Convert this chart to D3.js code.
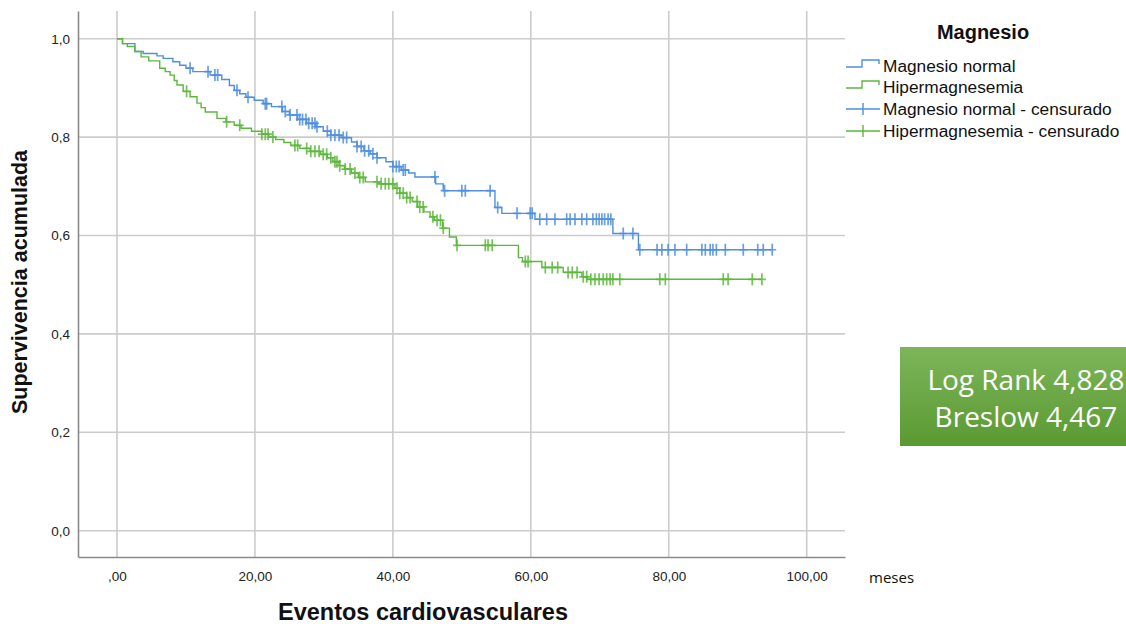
<!DOCTYPE html>
<html>
<head>
<meta charset="utf-8">
<script src="https://cdn.jsdelivr.net/npm/d3@7"></script>
<style>
  body { margin: 0; background: #fff; }
  svg { display: block; }
</style>
</head>
<body>
<svg id="canvas" width="1126" height="624"></svg>
<script>
// steps: [meses, supervivencia after the drop]
var normal_steps = [
    [0.8, 0.99], [2.6, 0.974], [3.8, 0.970], [5.8, 0.965], [6.7, 0.960], [8.1, 0.953],
    [9.1, 0.946], [10.0, 0.940], [11.0, 0.933], [13.5, 0.926], [15.2, 0.917], [16.3, 0.905],
    [17.0, 0.895], [17.8, 0.888], [18.7, 0.881], [19.9, 0.875], [21.2, 0.868], [22.4, 0.862],
    [24.0, 0.852], [25.0, 0.845], [26.2, 0.836], [27.5, 0.828], [28.8, 0.821], [29.9, 0.812],
    [31.0, 0.804], [32.5, 0.799], [34.0, 0.790], [34.8, 0.781], [35.8, 0.772], [36.7, 0.766],
    [37.7, 0.758], [39.0, 0.750], [40.0, 0.740], [41.2, 0.733], [42.3, 0.727], [43.2, 0.719],
    [46.2, 0.705], [47.3, 0.691], [54.8, 0.657], [55.8, 0.645], [60.6, 0.633], [71.9, 0.604],
    [75.6, 0.571]
];
var hiper_steps = [
    [0.8, 0.99], [1.5, 0.984], [2.6, 0.974], [3.5, 0.963], [4.6, 0.955], [6.2, 0.940],
    [7.0, 0.933], [7.7, 0.926], [8.3, 0.915], [8.7, 0.906], [9.6, 0.893], [10.6, 0.882],
    [11.6, 0.869], [12.2, 0.860], [12.8, 0.851], [14.5, 0.838], [15.8, 0.831], [17.0, 0.824],
    [18.0, 0.818], [19.5, 0.812], [21.0, 0.806], [22.0, 0.800], [23.0, 0.795], [24.2, 0.789],
    [25.2, 0.783], [26.5, 0.777], [28.0, 0.771], [29.5, 0.765], [30.5, 0.758], [31.3, 0.750],
    [32.2, 0.742], [33.0, 0.735], [34.0, 0.727], [35.0, 0.718], [36.0, 0.709], [38.0, 0.705],
    [40.3, 0.696], [41.0, 0.686], [42.0, 0.677], [42.8, 0.669], [43.6, 0.658], [44.5, 0.648],
    [45.4, 0.638], [46.0, 0.631], [47.2, 0.615], [48.2, 0.597], [49.2, 0.580], [58.2, 0.555],
    [58.8, 0.547], [61.6, 0.535], [64.7, 0.525], [67.4, 0.516], [68.2, 0.511]
];
// censored cases (meses)
var normal_censored = [
    10.6, 13.2, 14.2, 14.6, 17.4, 19.0, 21.5, 21.7, 23.9, 24.4, 25.1, 26.1, 26.5, 26.9, 27.4,
    27.8, 28.3, 28.7, 29.0, 30.5, 31.0, 31.6, 32.2, 32.8, 33.3, 34.8, 35.4, 35.9, 36.5, 37.1,
    37.7, 40.0, 40.5, 40.9, 41.5, 41.8, 46.1, 47.5, 50.0, 50.5, 54.1, 55.2, 58.0, 59.9, 60.2,
    61.3, 62.3, 63.5, 65.2, 65.7, 66.4, 67.4, 68.1, 69.0, 69.5, 69.9, 70.3, 70.7, 71.2, 71.6,
    73.4, 74.8, 75.8, 78.3, 79.0, 79.9, 80.9, 82.6, 84.8, 85.3, 86.0, 86.4, 86.9, 88.2, 90.8,
    92.9, 93.7, 95.0
];
var hiper_censored = [
    10.1, 15.9, 17.8, 21.0, 21.5, 21.9, 22.6, 25.8, 26.2, 27.5, 28.1, 28.7, 29.3, 29.9, 30.4,
    31.0, 31.6, 31.9, 32.3, 33.1, 33.8, 34.5, 35.2, 35.7, 37.7, 38.3, 38.9, 39.4, 40.0, 40.6,
    41.0, 41.5, 42.0, 42.5, 43.5, 43.9, 44.4, 45.8, 46.4, 46.9, 47.3, 49.3, 53.4, 53.8, 54.4,
    59.2, 59.6, 62.1, 63.1, 63.9, 65.4, 66.0, 66.7, 67.6, 68.1, 68.7, 69.3, 69.9, 70.5, 71.0,
    71.5, 71.9, 72.9, 78.7, 79.5, 87.9, 88.6, 92.1, 93.5
];
var legend_labels = ['Magnesio normal', 'Hipermagnesemia', 'Magnesio normal - censurado', 'Hipermagnesemia - censurado'];
var x_ticks = [0, 20, 40, 60, 80, 100];
var x_tick_labels = [',00', '20,00', '40,00', '60,00', '80,00', '100,00'];
var y_ticks = [0, 0.2, 0.4, 0.6, 0.8, 1.0];
var y_tick_labels = ['0,0', '0,2', '0,4', '0,6', '0,8', '1,0'];
var stats_lines = ['Log Rank 4,828', 'Breslow 4,467'];

var colors = ['#4f8fe0', '#5cb83c'];
var arial = 'Arial, "Liberation Sans", sans-serif';

draw_chart();

function draw_chart(){
    var canvas = d3.select('#canvas');
    var plot = {left: 78, right: 845, top: 11, bottom: 557};

    var x_scale = d3.scaleLinear().domain([-5.65, 105.55]).range([plot.left, plot.right]);
    var y_scale = d3.scaleLinear().domain([-0.0535, 1.0563]).range([plot.bottom, plot.top]);

    draw_grid(canvas, x_scale, y_scale, plot);
    draw_axes(canvas, x_scale, y_scale, plot);

    var all_steps = [normal_steps, hiper_steps];
    var all_censored = [normal_censored, hiper_censored];
    for (var i = 0; i < 2; i++){
        draw_curve(canvas, x_scale, y_scale, all_steps[i], all_censored[i], colors[i]);
    }

    draw_legend(canvas);
    draw_stats_box(canvas);
}

function survival_at(steps, t){
    var s = 1;
    steps.forEach(function(d){ if (d[0] <= t) s = d[1]; });
    return s;
}

function draw_grid(canvas, x_scale, y_scale, plot){
    var grid = canvas.append('g').attr('class', 'grid');
    grid.selectAll('.vgrid').data(x_ticks).enter().append('line')
        .attr('x1', function(d){ return x_scale(d); })
        .attr('x2', function(d){ return x_scale(d); })
        .attr('y1', plot.top).attr('y2', plot.bottom)
        .attr('stroke', '#cccccc').attr('stroke-width', 1.6);
    grid.selectAll('.hgrid').data(y_ticks).enter().append('line')
        .attr('x1', plot.left).attr('x2', plot.right)
        .attr('y1', function(d){ return y_scale(d); })
        .attr('y2', function(d){ return y_scale(d); })
        .attr('stroke', '#cccccc').attr('stroke-width', 1.6);
}

function draw_axes(canvas, x_scale, y_scale, plot){
    var x_axis = canvas.append('g')
        .attr('transform', 'translate(0, ' + plot.bottom + ')')
        .call(d3.axisBottom(x_scale).tickValues(x_ticks).tickSize(0).tickPadding(14)
            .tickFormat(function(d, i){ return x_tick_labels[i]; }));
    x_axis.select('.domain').attr('stroke', '#8a8a8a').attr('stroke-width', 1.6);
    x_axis.selectAll('text').attr('font-family', arial)
        .attr('font-size', 13.5).attr('fill', '#222');

    var y_axis = canvas.append('g')
        .attr('transform', 'translate(' + plot.left + ', 0)')
        .call(d3.axisLeft(y_scale).tickValues(y_ticks).tickSize(0).tickPadding(8)
            .tickFormat(function(d, i){ return y_tick_labels[i]; }));
    y_axis.select('.domain').attr('stroke', '#8a8a8a').attr('stroke-width', 1.6);
    y_axis.selectAll('text').attr('font-family', arial)
        .attr('font-size', 13.5).attr('fill', '#222');

    canvas.append('text')
        .attr('transform', 'translate(27, 282) rotate(-90)')
        .attr('text-anchor', 'middle')
        .attr('font-family', arial)
        .attr('font-weight', 'bold').attr('font-size', 21.5).attr('fill', '#111')
        .text('Supervivencia acumulada');

    canvas.append('text')
        .attr('x', 423).attr('y', 620)
        .attr('text-anchor', 'middle')
        .attr('font-family', arial)
        .attr('font-weight', 'bold').attr('font-size', 23.5).attr('fill', '#111')
        .text('Eventos cardiovasculares');

    canvas.append('text')
        .attr('x', 869).attr('y', 583)
        .attr('font-family', '"Open Sans", sans-serif')
        .attr('font-size', 15).attr('fill', '#111')
        .text('meses');
}

function draw_curve(canvas, x_scale, y_scale, steps, censored, color){
    var last_t = d3.max(censored);
    var points = [[0, 1]].concat(steps);
    points.push([last_t, steps[steps.length - 1][1]]);

    var line = d3.line()
        .x(function(d){ return x_scale(d[0]); })
        .y(function(d){ return y_scale(d[1]); })
        .curve(d3.curveStepAfter);

    canvas.append('path').datum(points)
        .attr('d', line)
        .attr('fill', 'none')
        .attr('stroke', color)
        .attr('stroke-width', 1.4);

    var marks = canvas.append('g');
    marks.selectAll('path').data(censored).enter().append('path')
        .attr('d', function(t){
            var cx = x_scale(t), cy = y_scale(survival_at(steps, t));
            return 'M' + (cx - 4) + ',' + cy + 'H' + (cx + 4) + 'M' + cx + ',' + (cy - 6) + 'V' + (cy + 6);
        })
        .attr('fill', 'none')
        .attr('stroke', color)
        .attr('stroke-width', 1.7)
        .attr('opacity', 0.85);
}

function draw_legend(canvas){
    var legend = canvas.append('g');
    legend.append('text')
        .attr('x', 983).attr('y', 39)
        .attr('text-anchor', 'middle')
        .attr('font-family', arial)
        .attr('font-weight', 'bold').attr('font-size', 20).attr('fill', '#111')
        .text('Magnesio');

    var row_y = [66, 87, 109, 131];
    legend_labels.forEach(function(label, i){
        var y = row_y[i];
        var color = colors[i % 2];
        if (i < 2){
            legend.append('path')
                .attr('d', 'M846,' + (y + 1) + 'H862V' + (y - 6) + 'H879V' + (y - 2))
                .attr('fill', 'none').attr('stroke', color).attr('stroke-width', 1.4);
        } else {
            legend.append('path')
                .attr('d', 'M846,' + y + 'H880M863,' + (y - 6) + 'V' + (y + 6))
                .attr('fill', 'none').attr('stroke', color).attr('stroke-width', 1.4);
        }
        legend.append('text')
            .attr('x', 883).attr('y', y + 6)
            .attr('font-family', arial)
            .attr('font-size', 17.3).attr('fill', '#111')
            .text(label);
    });
}

function draw_stats_box(canvas){
    var defs = canvas.append('defs');
    var grad = defs.append('linearGradient').attr('id', 'box-grad')
        .attr('x1', 0).attr('y1', 0).attr('x2', 0).attr('y2', 1);
    grad.append('stop').attr('offset', '0%').attr('stop-color', '#7db55a');
    grad.append('stop').attr('offset', '100%').attr('stop-color', '#5a9a32');

    canvas.append('rect')
        .attr('x', 900).attr('y', 347)
        .attr('width', 240).attr('height', 99)
        .attr('fill', 'url(#box-grad)');

    stats_lines.forEach(function(line, i){
        canvas.append('text')
            .attr('x', 1026).attr('y', 390 + i * 37)
            .attr('text-anchor', 'middle')
            .attr('font-family', '"Open Sans", "Noto Sans", sans-serif')
            .attr('font-size', 28).attr('fill', '#ffffff')
            .text(line);
    });
}
</script>
</body>
</html>
